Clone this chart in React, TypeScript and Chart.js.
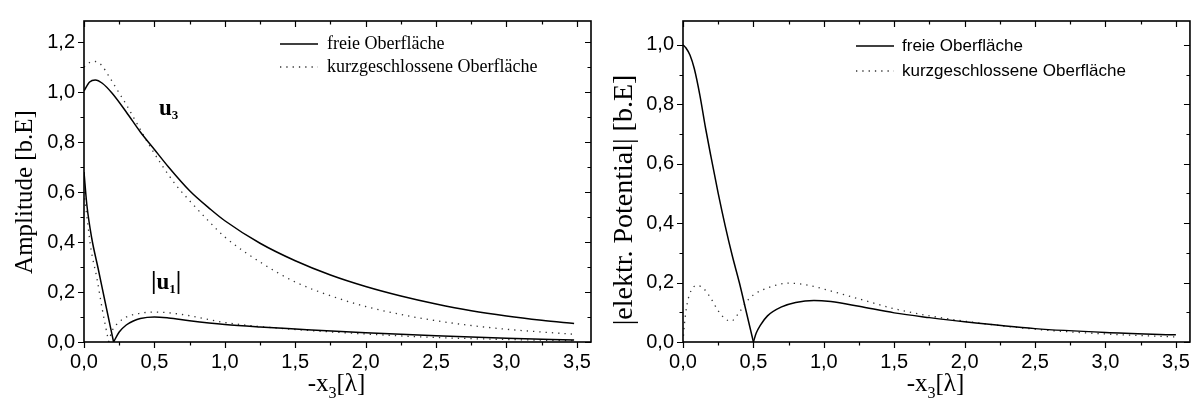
import React, { useEffect, useRef } from "react";
import { Chart, registerables } from "chart.js";

Chart.register(...registerables);

// ---------- data ----------
const xTickValues = [0, 0.5, 1, 1.5, 2, 2.5, 3, 3.5];
const leftYTickValues = [0, 0.2, 0.4, 0.6, 0.8, 1.0, 1.2];
const rightYTickValues = [0, 0.2, 0.4, 0.6, 0.8, 1.0];

const legendLabels = ["freie Oberfläche", "kurzgeschlossene Oberfläche"];

// left chart: u3 (free / short-circuited surface)
const u3FreeX = [0, 0.04, 0.08, 0.13, 0.2, 0.3, 0.4, 0.5, 0.6, 0.75, 0.9, 1.0, 1.25, 1.5, 1.75, 2.0, 2.25, 2.5, 2.75, 3.0, 3.25, 3.48];
const u3FreeY = [1.005, 1.04, 1.048, 1.035, 0.995, 0.92, 0.84, 0.77, 0.7, 0.605, 0.53, 0.485, 0.395, 0.325, 0.268, 0.222, 0.184, 0.152, 0.125, 0.104, 0.087, 0.074];
const u3ShortX = [0, 0.04, 0.08, 0.12, 0.18, 0.24, 0.3, 0.38, 0.45, 0.55, 0.65, 0.75, 0.9, 1.0, 1.25, 1.5, 1.75, 2.0, 2.25, 2.5, 2.75, 3.0, 3.25, 3.48];
const u3ShortY = [1.1, 1.118, 1.122, 1.11, 1.06, 1.005, 0.95, 0.87, 0.8, 0.71, 0.63, 0.565, 0.475, 0.42, 0.32, 0.24, 0.185, 0.142, 0.11, 0.085, 0.066, 0.051, 0.04, 0.031];
// left chart: |u1|
const u1FreeX = [0, 0.02, 0.055, 0.1, 0.15, 0.21, 0.25, 0.3, 0.35, 0.4, 0.5, 0.6, 0.75, 1.0, 1.25, 1.5, 2.0, 2.5, 3.0, 3.48];
const u1FreeY = [0.68, 0.55, 0.415, 0.295, 0.16, 0, 0.04, 0.068, 0.084, 0.094, 0.1, 0.096, 0.085, 0.07, 0.06, 0.052, 0.037, 0.025, 0.015, 0.008];
const u1ShortX = [0, 0.01, 0.025, 0.05, 0.09, 0.13, 0.175, 0.2, 0.25, 0.3, 0.4, 0.5, 0.6, 0.75, 1.0, 1.25, 1.5, 2.0, 2.5, 3.0, 3.48];
const u1ShortY = [0.6, 0.55, 0.48, 0.37, 0.26, 0.13, 0, 0.045, 0.08, 0.1, 0.115, 0.12, 0.117, 0.105, 0.078, 0.062, 0.05, 0.032, 0.018, 0.01, 0.005];

// right chart: |electric potential|
const potFreeX = [0, 0.02, 0.05, 0.08, 0.12, 0.16, 0.2, 0.25, 0.3, 0.35, 0.4, 0.45, 0.5, 0.52, 0.55, 0.6, 0.7, 0.8, 0.93, 1.05, 1.25, 1.5, 1.75, 2.0, 2.5, 3.0, 3.5];
const potFreeY = [1.0, 0.99, 0.965, 0.92, 0.83, 0.72, 0.62, 0.5, 0.39, 0.29, 0.2, 0.1, 0, 0.03, 0.057, 0.088, 0.118, 0.133, 0.14, 0.136, 0.12, 0.098, 0.082, 0.068, 0.045, 0.032, 0.024];
const potShortX = [0, 0.01, 0.03, 0.06, 0.1, 0.15, 0.2, 0.25, 0.3, 0.34, 0.4, 0.45, 0.5, 0.6, 0.75, 0.9, 1.0, 1.25, 1.5, 1.75, 2.0, 2.5, 3.0, 3.5];
const potShortY = [0.0, 0.06, 0.13, 0.175, 0.19, 0.178, 0.145, 0.105, 0.078, 0.07, 0.1, 0.135, 0.158, 0.182, 0.198, 0.19, 0.178, 0.145, 0.112, 0.088, 0.07, 0.043, 0.027, 0.017];

// ---------- helpers ----------
const fmt = (v: number) => Number(v).toFixed(1).replace(".", ",");
const pts = (xs: number[], ys: number[]) => xs.map((x, i) => ({ x, y: ys[i] }));
function splitAtZero(xs: number[], ys: number[]) {
  const k = ys.indexOf(0);
  if (k <= 0 || k >= ys.length - 1) return [pts(xs, ys)];
  return [pts(xs.slice(0, k + 1), ys.slice(0, k + 1)), pts(xs.slice(k), ys.slice(k))];
}

const SERIF = '"Liberation Serif", "Times New Roman", serif';
const SANS = '"Liberation Sans", Arial, sans-serif';

function lineDatasets(xs: number[], ys: number[], dotted: boolean) {
  return splitAtZero(xs, ys).map((data) => ({
    data,
    borderColor: dotted ? "#333" : "#000",
    borderWidth: dotted ? 1.3 : 1.5,
    borderDash: dotted ? [1.3, 5] : [],
    pointRadius: 0,
    cubicInterpolationMode: "monotone" as const,
    fill: false,
  }));
}

type Piece = { t: string; size: number; dy?: number; bold?: boolean; family: string };

function drawPieces(ctx: CanvasRenderingContext2D, pieces: Piece[], x: number, y: number, align: "left" | "center") {
  let total = 0;
  const widths = pieces.map((p) => {
    ctx.font = `${p.bold ? "bold " : ""}${p.size}px ${p.family}`;
    const w = ctx.measureText(p.t).width;
    total += w;
    return w;
  });
  let cx = align === "center" ? x - total / 2 : x;
  ctx.textAlign = "left";
  ctx.textBaseline = "alphabetic";
  pieces.forEach((p, i) => {
    ctx.font = `${p.bold ? "bold " : ""}${p.size}px ${p.family}`;
    ctx.fillText(p.t, cx, y + (p.dy || 0));
    cx += widths[i];
  });
}

type Deco = {
  yMax: number;
  yTitle: string;
  yTitleSize: number;
  yTitleX: number;
  yTitleY: number;
  legendFamily: string;
  legendSize: number;
  legendLineX: [number, number];
  legendTextX: number;
  legendY: [number, number];
  notes: { pieces: Piece[]; x: number; y: number }[];
};

function decoPlugin(d: Deco) {
  return {
    id: "deco",
    afterDatasetsDraw(chart: any) {
      const { ctx, chartArea: a, scales } = chart;
      const xs = scales.x;
      const ys = scales.y;
      ctx.save();
      ctx.fillStyle = "#000";
      ctx.strokeStyle = "#000";
      // frame
      ctx.lineWidth = 1.6;
      ctx.strokeRect(a.left, a.top, a.right - a.left, a.bottom - a.top);
      // ticks
      ctx.lineWidth = 1.2;
      ctx.beginPath();
      for (let v = 0; v <= 3.6 + 1e-9; v += 0.25) {
        const major = Math.abs(v / 0.5 - Math.round(v / 0.5)) < 1e-6;
        const len = major ? 6 : 3.5;
        const px = Math.round(xs.getPixelForValue(v)) + 0.5;
        ctx.moveTo(px, a.bottom);
        ctx.lineTo(px, a.bottom + len);
        ctx.moveTo(px, a.top);
        ctx.lineTo(px, a.top + len);
      }
      for (let v = 0; v <= d.yMax + 1e-9; v += 0.1) {
        const major = Math.abs(v / 0.2 - Math.round(v / 0.2)) < 1e-6;
        const len = major ? 6 : 3.5;
        const py = Math.round(ys.getPixelForValue(v)) + 0.5;
        ctx.moveTo(a.left, py);
        ctx.lineTo(a.left - len, py);
        ctx.moveTo(a.right, py);
        ctx.lineTo(a.right - len, py);
      }
      ctx.stroke();

      // y title
      ctx.save();
      ctx.translate(d.yTitleX, d.yTitleY);
      ctx.rotate(-Math.PI / 2);
      ctx.font = `${d.yTitleSize}px ${SERIF}`;
      ctx.textAlign = "center";
      ctx.textBaseline = "middle";
      ctx.fillText(d.yTitle, 0, 0);
      ctx.restore();

      // x title  -x3[λ]
      const cx = (a.left + a.right) / 2 - 1;
      drawPieces(
        ctx,
        [
          { t: "-x", size: 25, family: SERIF },
          { t: "3", size: 16, dy: 7, family: SERIF },
          { t: "[λ]", size: 25, family: SERIF },
        ],
        cx,
        391,
        "center"
      );

      // legend
      ctx.lineWidth = 1.5;
      ctx.setLineDash([]);
      ctx.beginPath();
      ctx.moveTo(d.legendLineX[0], d.legendY[0]);
      ctx.lineTo(d.legendLineX[1], d.legendY[0]);
      ctx.stroke();
      ctx.strokeStyle = "#333";
      ctx.lineWidth = 1.3;
      ctx.setLineDash([1.3, 5]);
      ctx.beginPath();
      ctx.moveTo(d.legendLineX[0], d.legendY[1]);
      ctx.lineTo(d.legendLineX[1], d.legendY[1]);
      ctx.stroke();
      ctx.setLineDash([]);
      ctx.font = `${d.legendSize}px ${d.legendFamily}`;
      ctx.textAlign = "left";
      ctx.textBaseline = "middle";
      ctx.fillText(legendLabels[0], d.legendTextX, d.legendY[0]);
      ctx.fillText(legendLabels[1], d.legendTextX, d.legendY[1]);

      // annotations
      d.notes.forEach((n) => drawPieces(ctx, n.pieces, n.x, n.y, "left"));
      ctx.restore();
    },
  };
}

function buildConfig(opts: {
  datasets: any[];
  yMax: number;
  yTicks: number[];
  yWidth: number;
  padTop: number;
  padRight: number;
  deco: Deco;
}) {
  const tickFont = { family: SANS, size: 20 };
  return {
    type: "line" as const,
    data: { datasets: opts.datasets },
    options: {
      animation: false as const,
      responsive: false,
      maintainAspectRatio: false,
      layout: { padding: { top: opts.padTop, right: opts.padRight, left: 0, bottom: 0 } },
      plugins: { legend: { display: false }, tooltip: { enabled: false } },
      scales: {
        x: {
          type: "linear" as const,
          min: 0,
          max: 3.6,
          afterBuildTicks: (s: any) => {
            s.ticks = xTickValues.map((v) => ({ value: v }));
          },
          afterFit: (s: any) => {
            s.height = 66;
          },
          ticks: { callback: (v: any) => fmt(v), font: tickFont, color: "#000", padding: 8, maxRotation: 0, autoSkip: false },
          grid: { display: false, drawTicks: false },
          border: { display: false },
        },
        y: {
          type: "linear" as const,
          min: 0,
          max: opts.yMax,
          afterBuildTicks: (s: any) => {
            s.ticks = opts.yTicks.map((v) => ({ value: v }));
          },
          afterFit: (s: any) => {
            s.width = opts.yWidth;
          },
          ticks: { callback: (v: any) => fmt(v), font: tickFont, color: "#000", padding: 9, autoSkip: false },
          grid: { display: false, drawTicks: false },
          border: { display: false },
        },
      },
    },
    plugins: [decoPlugin(opts.deco)],
  };
}

function ChartCanvas({ make, left, width }: { make: () => any; left: number; width: number }) {
  const ref = useRef<HTMLCanvasElement>(null);
  useEffect(() => {
    const chart = new Chart(ref.current as HTMLCanvasElement, make());
    return () => chart.destroy();
  }, []);
  return (
    <canvas
      ref={ref}
      width={width}
      height={408}
      style={{ position: "absolute", left, top: 0, width, height: 408, display: "block" }}
    />
  );
}

const makeLeft = () =>
  buildConfig({
    datasets: [
      ...lineDatasets(u3FreeX, u3FreeY, false),
      ...lineDatasets(u3ShortX, u3ShortY, true),
      ...lineDatasets(u1FreeX, u1FreeY, false),
      ...lineDatasets(u1ShortX, u1ShortY, true),
    ],
    yMax: 1.284,
    yTicks: leftYTickValues,
    yWidth: 84,
    padTop: 5,
    padRight: 9,
    deco: {
      yMax: 1.284,
      yTitle: "Amplitude [b.E]",
      yTitleSize: 25,
      yTitleX: 25,
      yTitleY: 192,
      legendFamily: SERIF,
      legendSize: 18,
      legendLineX: [280, 318],
      legendTextX: 327,
      legendY: [44, 67],
      notes: [
        {
          pieces: [
            { t: "u", size: 23, bold: true, family: SERIF },
            { t: "3", size: 13, bold: true, dy: 4, family: SERIF },
          ],
          x: 159,
          y: 115,
        },
        {
          pieces: [
            { t: "|", size: 25, bold: true, family: SERIF },
            { t: "u", size: 23, bold: true, family: SERIF },
            { t: "1", size: 13, bold: true, dy: 4, family: SERIF },
            { t: "|", size: 25, bold: true, family: SERIF },
          ],
          x: 151,
          y: 289,
        },
      ],
    },
  });

const makeRight = () =>
  buildConfig({
    datasets: [...lineDatasets(potFreeX, potFreeY, false), ...lineDatasets(potShortX, potShortY, true)],
    yMax: 1.08,
    yTicks: rightYTickValues,
    yWidth: 83,
    padTop: 6,
    padRight: 8,
    deco: {
      yMax: 1.08,
      yTitle: "|elektr. Potential| [b.E]",
      yTitleSize: 28,
      yTitleX: 25,
      yTitleY: 200,
      legendFamily: SANS,
      legendSize: 17,
      legendLineX: [256, 294],
      legendTextX: 302,
      legendY: [46, 71],
      notes: [],
    },
  });

export default function App() {
  return (
    <div style={{ position: "absolute", left: 0, top: 0, width: 1198, height: 408, background: "#fff" }}>
      <ChartCanvas make={makeLeft} left={0} width={600} />
      <ChartCanvas make={makeRight} left={600} width={598} />
    </div>
  );
}
